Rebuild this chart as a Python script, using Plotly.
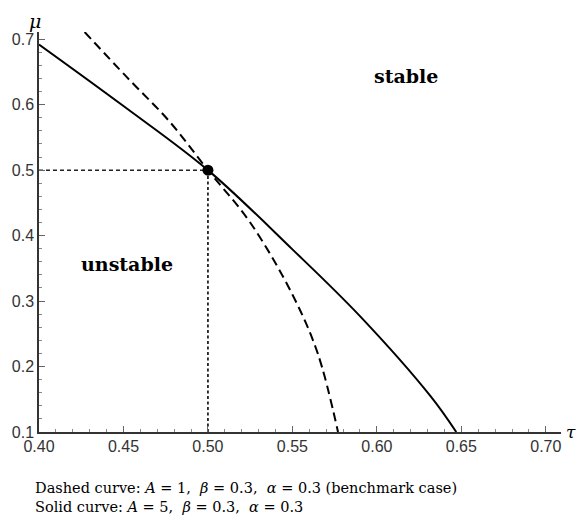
import plotly.graph_objects as go

# Data
solid_tau = [0.400, 0.450, 0.500, 0.550, 0.590, 0.632, 0.647]
solid_mu = [0.692, 0.598, 0.500, 0.379, 0.277, 0.154, 0.100]

dashed_tau = [0.427, 0.452, 0.477, 0.500, 0.525, 0.550, 0.565, 0.577]
dashed_mu = [0.711, 0.642, 0.575, 0.500, 0.420, 0.310, 0.220, 0.100]

point_tau = [0.5]
point_mu = [0.5]

x_ticks = [0.40, 0.45, 0.50, 0.55, 0.60, 0.65, 0.70]
x_ticklabels = ["0.40", "0.45", "0.50", "0.55", "0.60", "0.65", "0.70"]
y_ticks = [0.1, 0.2, 0.3, 0.4, 0.5, 0.6, 0.7]
y_ticklabels = ["0.1", "0.2", "0.3", "0.4", "0.5", "0.6", "0.7"]

x_range = [0.4, 0.709]
y_range = [0.1, 0.711]

caption_lines = [
    "Dashed curve: <i>A</i> = 1,  <i>β</i> = 0.3,  <i>α</i> = 0.3 (benchmark case)",
    "Solid curve: <i>A</i> = 5,  <i>β</i> = 0.3,  <i>α</i> = 0.3",
]

fig = go.Figure()

# reference dashed guides
fig.add_trace(go.Scatter(x=[x_range[0], point_tau[0]], y=[point_mu[0], point_mu[0]],
                         mode="lines", line=dict(color="#222", width=1.5, dash="4px,3px"),
                         hoverinfo="skip", showlegend=False))
fig.add_trace(go.Scatter(x=[point_tau[0], point_tau[0]], y=[y_range[0], point_mu[0]],
                         mode="lines", line=dict(color="#222", width=1.8, dash="3px,2.5px"),
                         hoverinfo="skip", showlegend=False))

fig.add_trace(go.Scatter(x=dashed_tau, y=dashed_mu, mode="lines", line_shape="spline",
                         line=dict(color="black", width=2, dash="9px,5px"), showlegend=False))
fig.add_trace(go.Scatter(x=solid_tau, y=solid_mu, mode="lines", line_shape="spline",
                         line=dict(color="black", width=2), showlegend=False))
fig.add_trace(go.Scatter(x=point_tau, y=point_mu, mode="markers",
                         marker=dict(color="black", size=11), showlegend=False))

tickfont = dict(family="Liberation Sans, Arial, sans-serif", size=16, color="#333")

fig.update_xaxes(range=x_range, tickvals=x_ticks, ticktext=x_ticklabels,
                 showgrid=False, zeroline=False, showline=True, linecolor="#333", linewidth=1.5,
                 ticks="inside", ticklen=6, tickcolor="#666", tickwidth=1,
                 minor=dict(ticks="inside", ticklen=3, dtick=0.01, tickcolor="#888", showgrid=False),
                 tickfont=tickfont, ticklabelstandoff=-1)
fig.update_yaxes(range=y_range, tickvals=y_ticks, ticktext=y_ticklabels,
                 showgrid=False, zeroline=False, showline=True, linecolor="#333", linewidth=1.5,
                 ticks="inside", ticklen=6, tickcolor="#666", tickwidth=1,
                 minor=dict(ticks="inside", ticklen=3, dtick=0.02, tickcolor="#888", showgrid=False),
                 tickfont=tickfont)

annotations = [
    dict(x=0.0, y=1.0, xref="paper", yref="paper", text="<i>μ</i>", showarrow=False,
         xanchor="center", yanchor="bottom", xshift=-4, yshift=-2,
         font=dict(family="DejaVu Serif, serif", size=19, color="black")),
    dict(x=1.0, y=0.0, xref="paper", yref="paper", text="<i>τ</i>", showarrow=False,
         xanchor="left", yanchor="middle", xshift=3,
         font=dict(family="DejaVu Serif, serif", size=17, color="black")),
    dict(x=0.617, y=0.644, text="<b>stable</b>", showarrow=False,
         font=dict(family="DejaVu Serif, serif", size=19, color="black")),
    dict(x=0.452, y=0.357, text="<b>unstable</b>", showarrow=False,
         font=dict(family="DejaVu Serif, serif", size=19, color="black")),
    dict(x=0.0, y=0.0, xref="paper", yref="paper", text="<br>".join(caption_lines),
         showarrow=False, xanchor="left", yanchor="top", align="left", xshift=-6, yshift=-46,
         font=dict(family="DejaVu Serif, serif", size=14.5, color="black")),
]

fig.update_layout(width=577, height=521, margin=dict(l=33, r=16, t=32, b=89),
                  plot_bgcolor="white", paper_bgcolor="white", annotations=annotations)

fig.write_html("out.html", config={"displayModeBar": False},
               post_script="document.body.style.margin='0';")
